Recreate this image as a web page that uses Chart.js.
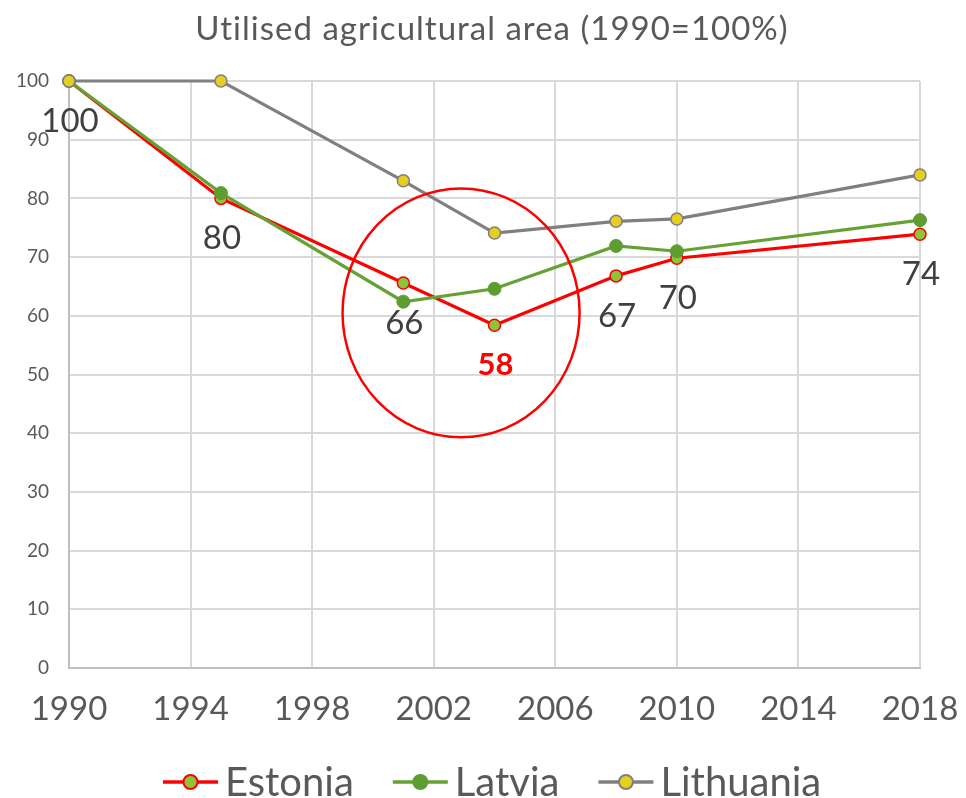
<!DOCTYPE html>
<html>
<head>
<meta charset="utf-8">
<title>Utilised agricultural area</title>
<script src="https://cdn.jsdelivr.net/npm/chart.js@4.4.1/dist/chart.umd.min.js"></script>
<style>
  html, body { margin: 0; padding: 0; background: #ffffff; }
  #wrap { width: 966px; height: 798px; }
</style>
</head>
<body>
<div id="wrap"><canvas id="chart" width="966" height="798"></canvas></div>
<script>
// --- data ---
const years = [1990, 1995, 2001, 2004, 2008, 2010, 2018];
const estonia = [100, 80.0, 65.6, 58.4, 66.8, 69.8, 73.9];
const latvia = [100, 80.9, 62.4, 64.6, 71.9, 71.0, 76.3];
const lithuania = [100, 100, 83.0, 74.1, 76.1, 76.5, 84.0];
const seriesNames = ['Estonia', 'Latvia', 'Lithuania'];
const chartTitle = 'Utilised agricultural area (1990=100%)';
const highlightIndex = 3; // the 2004 low point, shown in bold red

// ring around the 2001-2004 dip, in data units
const ringCenter = { x: 2002.9, y: 60.5 };
const ringRadius = { x: 3.9, y: 21.2 };

const FONT = 'Lato, "Open Sans", sans-serif';
const TEXT = '#595959';

const toPoints = (vals) => vals.map((v, i) => ({ x: years[i], y: v }));

// title drawn by hand so it can be letter-spaced like the original
const titlePlugin = {
  id: 'titlePlugin',
  afterDraw(chart) {
    const { ctx } = chart;
    ctx.save();
    ctx.font = '33px ' + FONT;
    ctx.letterSpacing = '1px';
    ctx.fillStyle = TEXT;
    ctx.textAlign = 'center';
    ctx.textBaseline = 'middle';
    ctx.fillText(chartTitle, 492, 29);
    ctx.restore();
  }
};

// labels under Estonia's points + the highlight ring
const annotations = {
  id: 'annotations',
  afterDatasetsDraw(chart) {
    const { ctx, scales: { x, y } } = chart;
    ctx.save();

    // ring
    const cx = x.getPixelForValue(ringCenter.x);
    const cy = y.getPixelForValue(ringCenter.y);
    const rx = x.getPixelForValue(ringCenter.x + ringRadius.x) - cx;
    const ry = cy - y.getPixelForValue(ringCenter.y + ringRadius.y);
    ctx.beginPath();
    ctx.ellipse(cx, cy, rx, ry, 0, 0, Math.PI * 2);
    ctx.strokeStyle = '#ff0000';
    ctx.lineWidth = 2.5;
    ctx.stroke();

    // value labels
    ctx.textAlign = 'center';
    ctx.textBaseline = 'middle';
    estonia.forEach((v, i) => {
      const px = x.getPixelForValue(years[i]);
      const py = y.getPixelForValue(v) + 40;
      if (i === highlightIndex) {
        ctx.font = 'bold 31px ' + FONT;
        ctx.fillStyle = '#ff0000';
      } else {
        ctx.font = '33px ' + FONT;
        ctx.fillStyle = '#404040';
      }
      ctx.fillText(String(Math.round(v)), px + 1, py);
    });
    ctx.restore();
  }
};

// legend: a short line with the point marker in the middle
const lineLegend = {
  id: 'lineLegend',
  afterDraw(chart) {
    const { ctx } = chart;
    const sets = chart.data.datasets;
    ctx.save();
    ctx.font = '40px ' + FONT;
    ctx.textBaseline = 'middle';
    const gap = 39, lineLen = 55, textGap = 7;
    let xPos = 163;
    const yPos = 782;
    sets.forEach((ds) => {
      ctx.strokeStyle = ds.borderColor;
      ctx.lineWidth = 3.5;
      ctx.beginPath();
      ctx.moveTo(xPos, yPos);
      ctx.lineTo(xPos + lineLen, yPos);
      ctx.stroke();
      ctx.beginPath();
      ctx.arc(xPos + lineLen / 2, yPos, 7, 0, Math.PI * 2);
      ctx.fillStyle = ds.pointBackgroundColor;
      ctx.fill();
      ctx.lineWidth = 2;
      ctx.strokeStyle = ds.pointBorderColor;
      ctx.stroke();
      ctx.fillStyle = TEXT;
      ctx.textAlign = 'left';
      const tx = xPos + lineLen + textGap;
      ctx.fillText(ds.label, tx, yPos + 1);
      xPos = tx + ctx.measureText(ds.label).width + gap;
    });
    ctx.restore();
  }
};

const ctx = document.getElementById('chart').getContext('2d');
new Chart(ctx, {
  type: 'line',
  data: {
    datasets: [
      {
        label: seriesNames[0],
        data: toPoints(estonia),
        borderColor: '#ff0000',
        borderWidth: 3.2,
        pointBackgroundColor: '#8cc43c',
        pointBorderColor: '#ff0000',
        pointBorderWidth: 1.5,
        pointRadius: 6,
        clip: false,
        order: 3
      },
      {
        label: seriesNames[1],
        data: toPoints(latvia),
        borderColor: '#65a233',
        borderWidth: 3.2,
        pointBackgroundColor: '#5e9e30',
        pointBorderColor: '#5e9e30',
        pointBorderWidth: 1,
        pointRadius: 6.5,
        clip: false,
        order: 2
      },
      {
        label: seriesNames[2],
        data: toPoints(lithuania),
        borderColor: '#808080',
        borderWidth: 3.2,
        pointBackgroundColor: '#e6cf1f',
        pointBorderColor: '#7f7f7f',
        pointBorderWidth: 1.5,
        pointRadius: 6,
        clip: false,
        order: 1
      }
    ]
  },
  options: {
    responsive: false,
    animation: false,
    layout: { padding: { left: 0, top: 81, right: 46, bottom: 70 } },
    plugins: {
      legend: { display: false },
      tooltip: { enabled: false },
      title: { display: false }
    },
    scales: {
      x: {
        type: 'linear',
        min: 1990,
        max: 2018,
        ticks: {
          stepSize: 4,
          color: TEXT,
          font: { family: FONT, size: 33 },
          padding: 22,
          callback: (v) => String(v)
        },
        grid: { color: '#d9d9d9', lineWidth: 2, drawTicks: false },
        border: { color: '#bfbfbf', width: 2 },
        afterFit: (scale) => {
          scale.height = 60;
          scale.paddingLeft = 0;
          scale.paddingRight = 0;
        }
      },
      y: {
        min: 0,
        max: 100,
        ticks: {
          stepSize: 10,
          color: TEXT,
          font: { family: FONT, size: 19 },
          padding: 20
        },
        grid: { color: '#d9d9d9', lineWidth: 2, drawTicks: false },
        border: { color: '#bfbfbf', width: 2 },
        afterFit: (scale) => {
          scale.width = 69;
          scale.paddingTop = 0;
          scale.paddingBottom = 0;
        }
      }
    }
  },
  plugins: [annotations, lineLegend, titlePlugin]
});
</script>
</body>
</html>
